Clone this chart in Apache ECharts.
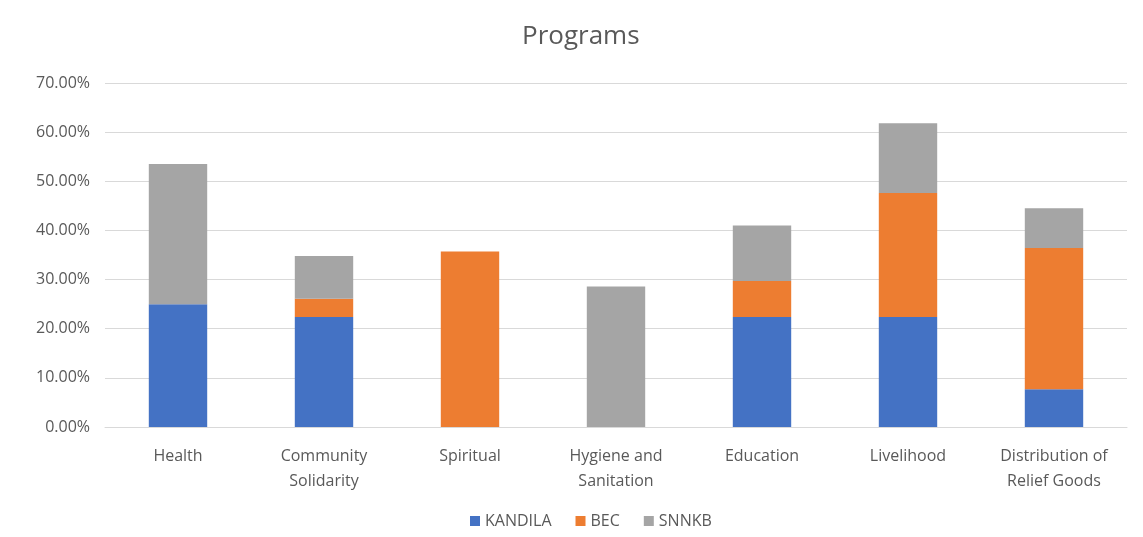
<!DOCTYPE html>
<html>
<head>
<meta charset="utf-8">
<script src="https://cdn.jsdelivr.net/npm/echarts@6/dist/echarts.min.js"></script>
<style>
  html, body { margin: 0; padding: 0; background: #fff; }
  #chart { width: 1143px; height: 537px; }
</style>
</head>
<body>
<div id="chart"></div>
<script>
var categories = ['Health', 'Community\nSolidarity', 'Spiritual', 'Hygiene and\nSanitation', 'Education', 'Livelihood', 'Distribution of\nRelief Goods'];
var kandila = [25, 22.4, 0, 0, 22.4, 22.4, 7.7];
var bec = [0, 3.7, 35.7, 0, 7.3, 25.2, 28.7];
var snnkb = [28.5, 8.7, 0, 28.6, 11.3, 14.2, 8.1];

var font = '"Open Sans", Lato, sans-serif';
var chart = echarts.init(document.getElementById('chart'));

function bar(name, data, color) {
    return {
        name: name,
        type: 'bar',
        stack: 'total',
        barWidth: '40%',
        data: data,
        itemStyle: { color: color }
    };
}

chart.setOption({
    animation: false,
    title: {
        text: 'Programs',
        left: 517,
        top: 19,
        textStyle: { fontFamily: font, fontSize: 26, fontWeight: 'normal', color: '#595959' }
    },
    legend: {
        bottom: 3,
        left: 465,
        itemWidth: 10,
        itemHeight: 10,
        itemGap: 24,
        icon: 'rect',
        textStyle: { fontFamily: font, fontSize: 16, color: '#595959' },
        data: ['KANDILA', 'BEC', 'SNNKB']
    },
    grid: { left: 105, right: 16, top: 83, bottom: 110 },
    xAxis: {
        type: 'category',
        data: categories,
        axisTick: { show: false },
        axisLine: { lineStyle: { color: '#d9d9d9' } },
        axisLabel: { fontFamily: font, fontSize: 16, color: '#595959', margin: 17, lineHeight: 25, interval: 0 }
    },
    yAxis: {
        type: 'value',
        min: 0,
        max: 70,
        interval: 10,
        axisLine: { show: false },
        axisTick: { show: false },
        splitLine: { lineStyle: { color: '#d9d9d9' } },
        axisLabel: {
            fontFamily: font, fontSize: 16, color: '#595959', margin: 15,
            formatter: function (v) { return v.toFixed(2) + '%'; }
        }
    },
    series: [
        bar('KANDILA', kandila, '#4472C4'),
        bar('BEC', bec, '#ED7D31'),
        bar('SNNKB', snnkb, '#A5A5A5')
    ]
});
</script>
</body>
</html>
